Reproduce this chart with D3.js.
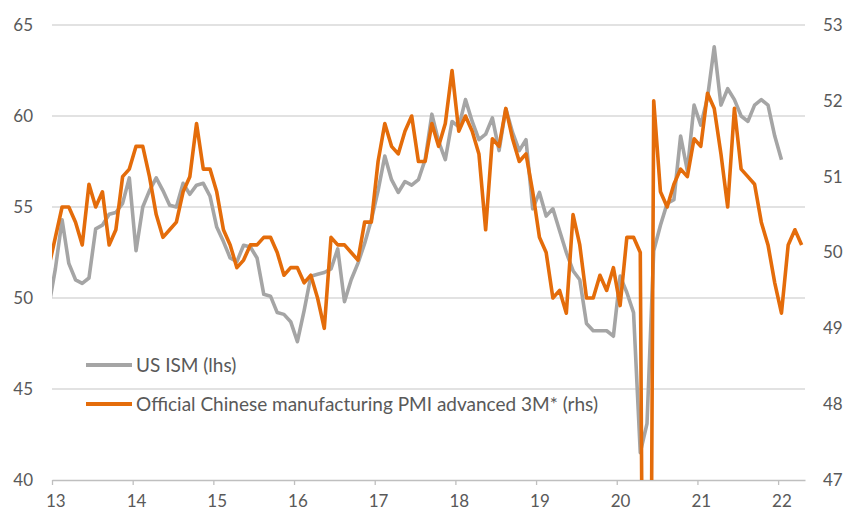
<!DOCTYPE html>
<html><head><meta charset="utf-8">
<script src="https://cdn.jsdelivr.net/npm/d3@7"></script>
<style>
body{margin:0;background:#fff;}
svg text{font-family:Lato,"Liberation Sans",sans-serif;fill:#595959;}
</style>
</head><body>
<svg id="c" width="845" height="512"></svg>
<script>
// ---- data ----
const yearLabels = ["13","14","15","16","17","18","19","20","21","22"];
const leftTicks = [40,45,50,55,60,65];
const rightTicks = [47,48,49,50,51,52,53];
const seriesNames = ["US ISM (lhs)", "Official Chinese manufacturing PMI advanced 3M* (rhs)"];
// month index 0 = Jan 2013; both series start at index -1 (Dec 2012)
const ismStart = -1;
const ismValues = [
 49.5,
 51.6,54.3,51.9,51.0,50.8,51.1,53.8,54.0,54.6,54.7,55.2,56.6,
 52.6,55.0,55.9,56.6,55.9,55.1,55.0,56.3,55.7,56.2,56.3,55.6,
 53.9,53.1,52.2,52.0,52.9,52.8,52.2,50.2,50.1,49.2,49.1,48.7,
 47.6,49.3,51.2,51.3,51.4,51.6,52.7,49.8,51.0,51.9,53.0,54.3,
 55.9,57.8,56.5,55.8,56.4,56.2,56.5,57.6,60.1,58.6,57.6,59.7,
 59.4,60.9,59.7,58.7,59.0,59.9,58.1,60.4,59.1,58.1,58.7,54.9,
 55.8,54.5,54.9,53.7,52.5,51.5,51.0,48.6,48.2,48.2,48.2,47.9,
 51.2,50.3,49.2,41.5,43.1,52.6,54.0,55.2,55.4,58.9,57.0,60.6,
 59.5,61.0,63.8,60.6,61.5,60.9,60.0,59.7,60.6,60.9,60.6,58.9,
 57.6
];
const pmiStart = -1;
const pmiValues = [
 49.8,
 50.2,50.6,50.6,
 50.4,50.1,50.9,50.6,50.8,50.1,50.3,51.0,51.1,51.4,51.4,51.0,
 50.5,50.2,50.3,50.4,50.8,51.0,51.7,51.1,51.1,50.8,50.3,50.1,
 49.8,49.9,50.1,50.1,50.2,50.2,50.0,49.7,49.8,49.8,49.6,49.7,
 49.4,49.0,50.2,50.1,50.1,50.0,49.9,50.4,50.4,51.2,51.7,51.4,
 51.3,51.6,51.8,51.2,51.2,51.7,51.4,51.7,52.4,51.6,51.8,51.6,
 51.3,50.3,51.5,51.4,51.9,51.5,51.2,51.3,50.8,50.2,50.0,49.4,
 49.5,49.2,50.5,50.1,49.4,49.4,49.7,49.5,49.8,49.3,50.2,50.2,
 50.0,35.7,52.0,50.8,50.6,50.9,51.1,51.0,51.5,51.4,52.1,51.9,
 51.3,50.6,51.9,51.1,51.0,50.9,50.4,50.1,49.6,49.2,50.1,50.3,
 50.1
];
const totalMonths = 112; // Jan 2013 .. Apr 2022

// ---- chart ----
const svg = d3.select("#c");
const L=52, R=805, T=25, B=480;
const x = d3.scaleLinear().domain([0,totalMonths]).range([L,R]);
const yL = d3.scaleLinear().domain([40,65]).range([B,T]);
const yR = d3.scaleLinear().domain([47,53]).range([B,T]);
const gridColor = "#d9d9d9";
const grey = "#a5a5a5", orange = "#e46c0a";
const fs = 17, legFs = 19;
const intFmt = d3.format("d");

// grid
svg.append("g").selectAll("line").data(leftTicks.slice(1)).join("line")
  .attr("x1",L).attr("x2",R).attr("y1",d=>yL(d)).attr("y2",d=>yL(d))
  .attr("stroke",gridColor).attr("stroke-width",1.3);

// left axis labels
const axL = d3.axisLeft(yL).tickValues(leftTicks).tickFormat(intFmt).tickSize(0).tickPadding(19);
svg.append("g").attr("transform",`translate(${L},0)`).call(axL)
  .call(g=>g.select(".domain").remove())
  .call(g=>g.selectAll("text").attr("font-size",fs).style("font-family","Lato").attr("fill","#595959"));
// right axis labels
const axR = d3.axisRight(yR).tickValues(rightTicks).tickFormat(intFmt).tickSize(0).tickPadding(18);
svg.append("g").attr("transform",`translate(${R},0)`).call(axR)
  .call(g=>g.select(".domain").remove())
  .call(g=>g.selectAll("text").attr("font-size",fs).style("font-family","Lato").attr("fill","#595959"));

// bottom axis
const axB = d3.axisBottom(x).tickValues(d3.range(0,totalMonths-3,12)).tickSize(5).tickSizeOuter(0)
  .tickFormat((d,i)=>yearLabels[i]);
const gB = svg.append("g").attr("transform",`translate(0,${B})`).call(axB);
gB.select(".domain").attr("stroke","#bfbfbf").attr("stroke-width",1.3);
gB.selectAll(".tick line").attr("stroke","#bfbfbf").attr("stroke-width",1.3);
gB.selectAll("text").attr("font-size",fs).style("font-family","Lato").attr("fill","#595959")
  .attr("x", x(0.5)-x(0)).attr("y",27).attr("dy",null);

// clip
svg.append("clipPath").attr("id","plot").append("rect")
  .attr("x",L).attr("y",0).attr("width",R-L).attr("height",B);

function pts(vals,start,scale){ return vals.map((v,i)=>[x(start+i+0.5), scale(v)]); }
const line = d3.line();
const gl = svg.append("g").attr("clip-path","url(#plot)");
gl.append("path").attr("d",line(pts(ismValues,ismStart,yL)))
  .attr("fill","none").attr("stroke",grey).attr("stroke-width",3.6).attr("stroke-linejoin","round");
gl.append("path").attr("d",line(pts(pmiValues,pmiStart,yR)))
  .attr("fill","none").attr("stroke",orange).attr("stroke-width",3.6).attr("stroke-linejoin","round");

// legend
const leg = svg.append("g");
const legY = [365, 404];
[grey, orange].forEach((c,i)=>{
  leg.append("line").attr("x1",86).attr("x2",132).attr("y1",legY[i]).attr("y2",legY[i])
    .attr("stroke",c).attr("stroke-width",4);
  leg.append("text").attr("x",136).attr("y",legY[i]).attr("dy","0.35em")
    .attr("font-size",legFs).text(seriesNames[i]);
});
</script>
</body></html>
